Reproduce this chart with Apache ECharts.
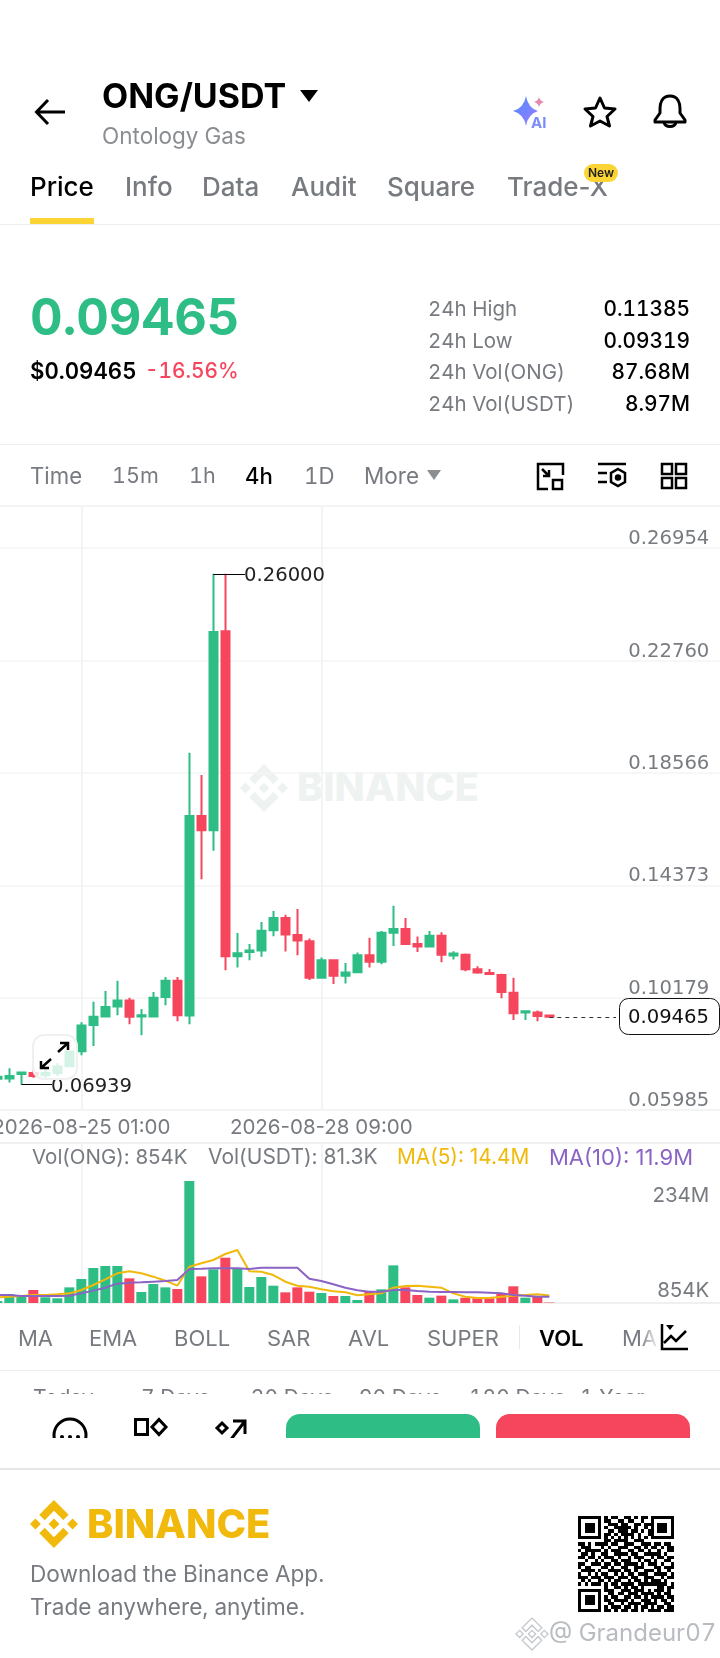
<!DOCTYPE html>
<html><head><meta charset="utf-8">
<script src="https://cdn.jsdelivr.net/npm/echarts@6/dist/echarts.min.js"></script>
<style>
html,body{margin:0;padding:0;background:#fff;width:720px;height:1658px;overflow:hidden;font-family:Inter,Lato,sans-serif}
#page{position:relative;width:720px;height:1658px;overflow:hidden;font-variant-numeric:tabular-nums}
#chart{position:absolute;left:0;top:0;width:720px;height:1658px;z-index:2;font-variant-numeric:normal}
.t{position:absolute;white-space:nowrap;transform:translateY(-50%);line-height:1;z-index:3}
.g{color:#777b80}.k{color:#000}
.r{position:absolute;z-index:3}
svg{position:absolute;z-index:3;overflow:visible}
</style></head><body><div id="page">
<svg width="0" height="0" style="position:absolute"><defs><path id="bn" d="M16.624 13.9202l2.7175 2.7154-7.353 7.353-7.353-7.352 2.7175-2.7164 4.6355 4.6595 4.6356-4.6595zm4.6366-4.6366L24 12l-2.7154 2.7164L18.5682 12l2.6924-2.7164zm-9.272.001l2.7163 2.6914-2.7164 2.7174v-.001L9.2721 12l2.7164-2.7154zm-9.2722-.001L5.4088 12l-2.6914 2.6924L0 12l2.7164-2.7164zM11.9885.0115l7.353 7.329-2.7174 2.7154-4.6356-4.6356-4.6355 4.6595-2.7174-2.7154 7.353-7.353z"/></defs></svg>

<svg style="left:34px;top:97px" width="32" height="30" viewBox="0 0 32 30" fill="none" stroke="#000" stroke-width="3"><path d="M31 15H3M14 3L2.500 15L14 27"/></svg>
<div class="t k" style="left:102px;top:96px;font-size:34px;font-weight:700">ONG/USDT</div>
<svg style="left:300px;top:90px" width="18" height="12"><path d="M0 0H18L9 12Z" fill="#000"/></svg>
<div class="t" style="left:102px;top:136px;font-size:22.500px;color:#8a8d91">Ontology Gas</div>
<svg style="left:513px;top:95px" width="36" height="34" viewBox="0 0 36 34"><defs><linearGradient id="ai" x1="0" y1="0" x2="1" y2="1"><stop offset="0" stop-color="#4f8cff"/><stop offset="1" stop-color="#9a7bff"/></linearGradient></defs><path d="M13 1Q15 13 25 16Q15 19 13 31Q11 19 0 16Q11 13 13 1Z" fill="url(#ai)"/><path d="M26 2Q27 6 31 7Q27 8 26 12Q25 8 21 7Q25 6 26 2Z" fill="#e88ab0"/><text x="18" y="33" font-size="15" font-weight="700" fill="#7b8cff" font-family="Inter">AI</text></svg>
<svg style="left:583px;top:96px" width="34" height="32" viewBox="0 0 34 32" fill="none" stroke="#000" stroke-width="3" stroke-linejoin="round"><path d="M17 2L21.500 12L32 13L24 20.500L26.500 30L17 25L7.500 30L10 20.500L2 13L12.500 12Z"/></svg>
<svg style="left:653px;top:94px" width="34" height="36" viewBox="0 0 34 36" fill="none" stroke="#000" stroke-width="3" stroke-linejoin="round"><path d="M17 2C9 2 7 9 7 15V19L2 26V28H32V26L27 19V15C27 9 25 2 17 2Z"/><path d="M11 28C12 34 22 34 23 28"/></svg>

<div class="t k" style="left:30px;top:187px;font-size:26px;font-weight:500">Price</div>
<div class="t g" style="left:125px;top:187px;font-size:26px;font-weight:500">Info</div>
<div class="t g" style="left:202px;top:187px;font-size:26px;font-weight:500">Data</div>
<div class="t g" style="left:291px;top:187px;font-size:26px;font-weight:500">Audit</div>
<div class="t g" style="left:387px;top:187px;font-size:26px;font-weight:500">Square</div>
<div class="t g" style="left:507px;top:187px;font-size:26px;font-weight:500;font-variant-numeric:normal">Trade-X</div>
<div class="r" style="left:584px;top:164px;width:34px;height:18px;border-radius:9px;background:#FCD535;text-align:center;font-size:12px;line-height:18px;font-weight:600;color:#222">New</div>
<div class="r" style="left:30px;top:218px;width:64px;height:6px;background:#FCD535"></div>
<div class="r" style="left:0;top:224px;width:720px;height:1px;background:#eeeeee"></div>

<div class="t" style="left:30px;top:317px;font-size:50.500px;font-weight:700;color:#2EBD85">0.09465</div>
<div class="t k" style="left:30px;top:371px;font-size:22.200px;font-weight:600">$0.09465</div>
<div class="t" style="left:145px;top:371px;font-size:20.800px;font-weight:500;color:#F6465D">-16.56%</div>
<div class="t g" style="left:428px;top:309px;font-size:20.500px">24h High</div>
<div class="t g" style="left:428px;top:341px;font-size:20.500px">24h Low</div>
<div class="t g" style="left:428px;top:372px;font-size:20.500px">24h Vol(ONG)</div>
<div class="t g" style="left:428px;top:404px;font-size:20.500px">24h Vol(USDT)</div>
<div class="t k" style="right:30px;top:309px;font-size:20.800px;font-weight:500">0.11385</div>
<div class="t k" style="right:30px;top:341px;font-size:20.800px;font-weight:500">0.09319</div>
<div class="t k" style="right:30px;top:372px;font-size:20.800px;font-weight:500">87.68M</div>
<div class="t k" style="right:30px;top:404px;font-size:20.800px;font-weight:500">8.97M</div>
<div class="r" style="left:0;top:444px;width:720px;height:1px;background:#eeeeee"></div>

<div class="t g" style="left:30px;top:476px;font-size:22.200px">Time</div>
<div class="t g" style="left:112px;top:476px;font-size:21.500px">15m</div>
<div class="t g" style="left:189px;top:476px;font-size:21.500px">1h</div>
<div class="t k" style="left:245px;top:476px;font-size:22.200px;font-weight:500">4h</div>
<div class="t g" style="left:304px;top:476px;font-size:22.200px">1D</div>
<div class="t g" style="left:364px;top:476px;font-size:22.500px">More</div>
<svg style="left:427px;top:470px" width="14" height="10"><path d="M0 0H14L7 10Z" fill="#8a8d91"/></svg>
<svg style="left:536px;top:462px" width="28" height="28" viewBox="0 0 28 28" fill="none" stroke="#000" stroke-width="2.500"><path d="M12 27H2V2H27V13"/><rect x="17" y="18" width="9" height="9"/><path d="M6 7L13 14M13 8V14H7"/></svg>
<svg style="left:597px;top:462px" width="30" height="28" viewBox="0 0 30 28" fill="none" stroke="#000" stroke-width="2.500"><path d="M1 2H29M1 11H10M1 20H10"/><path d="M21 7L28 11V20L21 24L14 20V11Z"/><circle cx="21" cy="15.500" r="2" fill="#000"/></svg>
<svg style="left:660px;top:462px" width="28" height="28" viewBox="0 0 28 28" fill="none" stroke="#000" stroke-width="2.500"><rect x="2" y="2" width="10" height="10"/><rect x="16" y="2" width="10" height="10"/><rect x="2" y="16" width="10" height="10"/><rect x="16" y="16" width="10" height="10"/></svg>

<svg style="left:240px;top:764px;z-index:1" width="48" height="48" viewBox="0 0 24 24" fill="#eef2f0"><use href="#bn"/></svg>
<div class="t" style="left:297px;top:788px;font-size:39.500px;font-weight:800;color:#eef2f0;z-index:1">BINANCE</div>

<div class="r" style="left:32px;top:1034px;width:42px;height:42px;border:2px solid #f0f0f0;border-radius:12px;background:rgba(255,255,255,.8)"></div>
<svg style="left:40px;top:1042px" width="29" height="27" viewBox="0 0 29 27" fill="none" stroke="#000" stroke-width="2.500"><path d="M28 1L18 10M20 1H28V8M1 26L11 17M9 26H1V19"/></svg>

<div class="t g" style="left:18px;top:1338px;font-size:22px">MA</div>
<div class="t g" style="left:89px;top:1338px;font-size:22px">EMA</div>
<div class="t g" style="left:174px;top:1338px;font-size:22px">BOLL</div>
<div class="t g" style="left:267px;top:1338px;font-size:22px">SAR</div>
<div class="t g" style="left:348px;top:1338px;font-size:22px">AVL</div>
<div class="t g" style="left:427px;top:1338px;font-size:22px">SUPER</div>
<div class="r" style="left:519px;top:1325px;width:1px;height:24px;background:#e8e8e8"></div>
<div class="t k" style="left:539px;top:1338px;font-size:22px;font-weight:600">VOL</div>
<div style="position:absolute;left:622px;top:1326px;width:34px;height:24px;overflow:hidden;z-index:3"><div style="font-size:22px;line-height:24px;color:#777b80;white-space:nowrap">MACD</div></div>
<div class="r" style="left:640px;top:1320px;width:20px;height:34px;background:linear-gradient(90deg,rgba(255,255,255,0),#fff)"></div>
<svg style="left:660px;top:1323px" width="28" height="28" viewBox="0 0 28 28" fill="none" stroke="#000" stroke-width="2.500"><path d="M2 1V26H28M4 20L11 13L16 18L26 8"/><path d="M6 2H14L10 7Z" fill="#000" stroke="none"/></svg>
<div class="r" style="left:0;top:1370px;width:720px;height:1px;background:#eeeeee"></div>

<div style="position:absolute;left:0;top:1386px;width:720px;height:8px;overflow:hidden;z-index:3">
<div class="t g" style="left:33px;top:11px;font-size:21px">Today</div>
<div class="t g" style="left:141px;top:11px;font-size:21px">7 Days</div>
<div class="t g" style="left:251px;top:11px;font-size:21px">30 Days</div>
<div class="t g" style="left:359px;top:11px;font-size:21px">90 Days</div>
<div class="t g" style="left:469px;top:11px;font-size:21px">180 Days</div>
<div class="t g" style="left:580px;top:11px;font-size:21px">1 Year</div>
</div>

<div style="position:absolute;left:0;top:1410px;width:720px;height:28px;overflow:hidden;z-index:3">
<svg style="left:52px;top:7px" width="36" height="36" viewBox="0 0 36 36" fill="none" stroke="#000" stroke-width="3"><circle cx="18" cy="18" r="16"/><circle cx="10" cy="20" r="2" fill="#000" stroke="none"/><circle cx="18" cy="20" r="2" fill="#000" stroke="none"/><circle cx="26" cy="20" r="2" fill="#000" stroke="none"/></svg>
<svg style="left:134px;top:8px" width="34" height="24" viewBox="0 0 34 24" fill="none" stroke="#000" stroke-width="3"><rect x="1.500" y="1.500" width="12" height="15"/><path d="M25 1.500L32 9L25 16.500L18 9Z"/><path d="M2 23H13M19 23H31"/></svg>
<svg style="left:215px;top:8px" width="32" height="24" viewBox="0 0 32 24" fill="none" stroke="#000" stroke-width="3"><path d="M7 5L12 10L7 15L2 10Z"/><path d="M14 24L30 3M18 3H30V16"/></svg>
<div class="r" style="left:286px;top:4px;width:194px;height:40px;border-radius:14px 14px 0 0;background:#2EBD85"></div>
<div class="r" style="left:496px;top:4px;width:194px;height:40px;border-radius:14px 14px 0 0;background:#F6465D"></div>
</div>
<div class="r" style="left:0;top:1468px;width:720px;height:2px;background:#e6e6e6"></div>

<svg style="left:30px;top:1500px" width="48" height="48" viewBox="0 0 24 24" fill="#F0B90B"><use href="#bn"/></svg>
<div class="t" style="left:87px;top:1524px;font-size:39.800px;font-weight:800;color:#F0B90B">BINANCE</div>
<div class="t" style="left:30px;top:1574px;font-size:22.600px;color:#777b80">Download the Binance App.</div>
<div class="t" style="left:30px;top:1607px;font-size:22.600px;color:#777b80">Trade anywhere, anytime.</div>
<svg id="qr" style="left:578px;top:1516px" width="96" height="96" viewBox="0 0 29 29" shape-rendering="crispEdges"></svg>
<svg style="left:516px;top:1618px" width="32" height="32" viewBox="0 0 24 24" fill="#fff" stroke="#c4c8cc" stroke-width="1"><use href="#bn"/></svg>
<div class="t" style="left:549px;top:1633px;font-size:24px;color:#b8bbbf">@ Grandeur07</div>

<div id="chart"></div>
</div>
<script>
// ---- chart data ----
const categories = ['2026-08-23 21:00','2026-08-24 01:00','2026-08-24 05:00','2026-08-24 09:00','2026-08-24 13:00','2026-08-24 17:00','2026-08-24 21:00','2026-08-25 01:00','2026-08-25 05:00','2026-08-25 09:00','2026-08-25 13:00','2026-08-25 17:00','2026-08-25 21:00','2026-08-26 01:00','2026-08-26 05:00','2026-08-26 09:00','2026-08-26 13:00','2026-08-26 17:00','2026-08-26 21:00','2026-08-27 01:00','2026-08-27 05:00','2026-08-27 09:00','2026-08-27 13:00','2026-08-27 17:00','2026-08-27 21:00','2026-08-28 01:00','2026-08-28 05:00','2026-08-28 09:00','2026-08-28 13:00','2026-08-28 17:00','2026-08-28 21:00','2026-08-29 01:00','2026-08-29 05:00','2026-08-29 09:00','2026-08-29 13:00','2026-08-29 17:00','2026-08-29 21:00','2026-08-30 01:00','2026-08-30 05:00','2026-08-30 09:00','2026-08-30 13:00','2026-08-30 17:00','2026-08-30 21:00','2026-08-31 01:00','2026-08-31 05:00','2026-08-31 09:00','2026-08-31 13:00','','','','','','','','','','','','','','',''];
const opens  = [.07148,.07163,.07326,.07370,.07281,.07370,.07620,.08181,.09154,.09479,.09847,.10069,.09479,.09479,.10201,.10806,.09508,.16955,.16424,.23857,.11720,.11882,.11941,.12693,.13151,.12517,.12281,.10924,.11573,.11000,.11130,.11764,.11514,.12605,.12738,.12177,.12089,.12487,.11750,.11779,.11234,.11101,.11027,.10363,.09626,.09626,.09510];
const closes = [.07222,.07252,.07385,.07252,.07370,.07606,.08166,.09140,.09464,.09833,.10069,.09464,.09523,.10172,.10806,.09523,.16955,.16424,.23827,.11720,.11838,.11941,.12679,.13151,.12531,.12310,.10924,.11573,.11000,.11116,.11764,.11514,.12605,.12738,.12177,.12089,.12487,.11779,.11824,.11234,.11116,.11057,.10393,.09597,.09670,.09493,.09465];
const lows   = [.07075,.07016,.06939,.07193,.07193,.07252,.07620,.08033,.08373,.09449,.09523,.09184,.08771,.09479,.09892,.09302,.09184,.14596,.15658,.11204,.11307,.11573,.11705,.12472,.11897,.11764,.10835,.10909,.10688,.10703,.11101,.11307,.11425,.12104,.12148,.11882,.12059,.11499,.11602,.11160,.11071,.11027,.10157,.09346,.09346,.09302,.09430];
const highs  = [.07296,.07547,.07400,.07517,.07517,.07739,.08166,.09258,.10024,.10422,.10806,.10172,.09759,.10393,.10953,.10953,.19315,.18489,.26000,.26000,.12590,.12177,.13003,.13416,.13269,.13490,.12384,.11676,.11573,.11470,.11868,.12413,.12664,.13608,.13151,.12458,.12664,.12620,.11912,.11824,.11352,.11248,.11071,.10924,.09670,.09700,.09552];
const volumes = [3.8,17.3,12.1,24.9,10.9,9.0,30.0,46.0,67.1,71.0,71.0,47.3,21.1,36.4,30.0,26.9,234,51.1,64.6,86.9,66.5,30.7,49.9,33.2,20.5,30.0,21.7,19.2,13.4,13.4,5.8,21.7,26.2,72.2,30.0,15.3,10.2,14.1,7.0,10.2,9.0,9.0,18.5,32.0,10.2,12.1,0.854];
const ma5  = [10.9,12.1,13.4,15.3,15.3,16.6,18.5,24.9,34.5,45.4,56.9,60.7,56.9,50.5,42.8,33.2,69.7,76.1,82.5,94.0,101.6,60.7,60.1,53.7,40.9,33.2,31.3,26.2,22.4,20.5,14.7,16.6,18.5,29.4,32.6,33.2,31.3,29.4,18.5,12.1,9.6,9.6,12.1,14.1,15.3,16.6,14.4];
const ma10 = [15.3,15.3,13.4,13.4,13.4,13.4,14.1,18.5,23.7,29.4,37.1,39.0,39.6,40.9,42.2,44.1,65.2,65.8,66.5,66.5,66.5,65.2,67.8,67.8,67.8,67.8,46.7,42.2,35.8,29.4,24.3,21.7,21.7,24.9,24.9,23.0,21.7,21.1,21.1,20.5,20.5,19.8,18.5,15.3,14.1,12.1,11.9];
const priceTicks = [0.05985,0.10179,0.14373,0.18566,0.22760,0.26954];
const volumeTicks = [0.854,234];
const volumeTickLabels = {0.854:'854K',234:'234M'};
const highMark = 0.26000, lowMark = 0.06939, lastPrice = 0.09465;
const legendTexts = ['Vol(ONG): 854K','Vol(USDT): 81.3K','MA(5): 14.4M','MA(10): 11.9M'];
const labelledTimes = ['2026-08-25 01:00','2026-08-28 09:00'];

// ---- decorative QR modules ----
const qrRows = ['11111110101100110101101111111','10000010110011011001001000001','10111010011101100110111011101','10111010100111110100101011101','10111010011011101101011011101','10000010110101111010011000001','11111110101010101010101111111','00000000110111100111000000000','11010111101100111001110110110','01110001010011100110101101011','10111110101110011011010010011','01101001100111101100111110100','11011010111010010111001011011','00100101001101110010110100110','11001110110110111101011101001','10110001101001100111000110111','01111010011110110100111010010','10010101100101011011100111101','11101110111011101100111001011','01010011010110010110101110100','10101110101101111011111111101','00000000100110101101000011011','11111110111001110111010111010','10000010011011011101111010110','10111010101100110110101111011','10111010110111101001110101101','10111010011001011110111100110','10000010101110110101101011011','11111110110101101101011110111'];
let qs='';qrRows.forEach((r,y)=>{for(let x=0;x<29;x++)if(r[x]==='1')qs+=`<rect x="${x}" y="${y}" width="1" height="1"/>`;});
document.getElementById('qr').innerHTML=qs;

const UP='#2EBD85',DOWN='#F6465D',GRID='#f3f4f4',GREY='#777b80';
const FONT='Inter',NUM='DejaVu Sans';
const chart=echarts.init(document.getElementById('chart'),null,{renderer:'canvas'});
const isLabelled=(i)=>labelledTimes.indexOf(categories[i])>=0;
const xBase={type:'category',boundaryGap:false,data:categories,axisLine:{show:false},axisTick:{show:false},
  splitLine:{show:true,interval:(i)=>isLabelled(i),lineStyle:{color:GRID,width:2}}};
chart.setOption({
  animation:false,
  grid:[
    {left:-2.67,width:732,top:506,height:604,outerBoundsMode:'none',containLabel:false,show:true,borderWidth:1.5,borderColor:'#f0f1f1',backgroundColor:'transparent'},
    {left:-2.67,width:732,top:1143,height:160,outerBoundsMode:'none',containLabel:false,show:true,borderWidth:1.5,borderColor:'#ececec',backgroundColor:'transparent'}
  ],
  xAxis:[
    Object.assign({},xBase,{gridIndex:0,axisLabel:{show:true,interval:(i)=>isLabelled(i),color:GREY,fontFamily:FONT,fontSize:20.5,margin:7}}),
    Object.assign({},xBase,{gridIndex:1,axisLabel:{show:false}})
  ],
  yAxis:[
    {type:'value',gridIndex:0,position:'right',min:0.05985,max:0.28529,scale:true,
      axisLine:{show:false},axisTick:{show:false,customValues:priceTicks},
      splitLine:{show:true,lineStyle:{color:GRID,width:1.5}},
      axisLabel:{inside:true,customValues:priceTicks,formatter:(v)=>v.toFixed(5),color:GREY,fontFamily:NUM,fontSize:19.6,margin:20,verticalAlign:'bottom',lineHeight:18,align:'right'}},
    {type:'value',gridIndex:1,position:'right',min:0,max:306.9,
      axisLine:{show:false},axisTick:{show:false,customValues:volumeTicks},splitLine:{show:false},
      axisLabel:{inside:true,customValues:volumeTicks,align:'right',margin:20,color:GREY,fontFamily:FONT,fontSize:20.5,
        formatter:(v)=>{const k=volumeTicks.reduce((a,b)=>Math.abs(b-v)<Math.abs(a-v)?b:a);return (k>100?'{t|':'{b|')+volumeTickLabels[k]+'}';},
        rich:{t:{color:GREY,fontFamily:FONT,fontSize:20.5,padding:[30,0,0,0]},b:{color:GREY,fontFamily:FONT,fontSize:20.5,padding:[0,0,24,0]}}}}
  ],
  series:[
    {type:'candlestick',xAxisIndex:0,yAxisIndex:0,barWidth:8,
      data:opens.map((o,i)=>[o,closes[i],lows[i],highs[i]]),
      itemStyle:{color:UP,color0:DOWN,borderColor:UP,borderColor0:DOWN,borderWidth:2}},
    {type:'bar',xAxisIndex:1,yAxisIndex:1,barWidth:10,
      data:volumes.map((v,i)=>({value:v,itemStyle:{color:closes[i]>=opens[i]?UP:DOWN}}))},
    {type:'line',xAxisIndex:1,yAxisIndex:1,data:ma5,symbol:'none',lineStyle:{color:'#F0B90B',width:2}},
    {type:'line',xAxisIndex:1,yAxisIndex:1,data:ma10,symbol:'none',lineStyle:{color:'#8B63C4',width:2}}
  ]
});
const P=(i,v)=>chart.convertToPixel({xAxisIndex:0,yAxisIndex:0},[i,v]);
const hi=P(18,highMark),lo=P(2,lowMark),la=P(46,lastPrice);
const txt=(x,y,s,c,a,f)=>({type:'text',z:100,style:{x,y,text:s,fill:c,font:f||('19.6px '+NUM),textAlign:a||'left',textVerticalAlign:'middle'}});
const seg=(x1,y,x2,dash)=>({type:'line',z:100,shape:{x1,y1:y,x2,y2:y},style:{stroke:dash?'#333':'#000',lineWidth:1,lineDash:dash?[4,4]:null}});
chart.setOption({graphic:[
  seg(hi[0],Math.round(hi[1])+.5,245),txt(244,hi[1]+2.5,highMark.toFixed(5),'#222'),
  seg(lo[0],Math.round(lo[1])+.5,52),txt(51,lo[1]+2.5,lowMark.toFixed(5),'#222'),
  seg(la[0],Math.round(la[1])+.5,616,true),
  {type:'rect',z:100,shape:{x:619.5,y:Math.round(la[1])-18.5,width:100,height:36,r:9},style:{fill:'#fff',stroke:'#111',lineWidth:1}},
  txt(709,la[1]+1,lastPrice.toFixed(5),'#111','right'),
  txt(32,1158,legendTexts[0],GREY,'left','20.5px '+FONT),txt(208,1158,legendTexts[1],GREY,'left','21px '+FONT),
  txt(397,1158,legendTexts[2],'#F0B90B','left','20.8px '+FONT),txt(549,1158,legendTexts[3],'#8B63C4','left','22px '+FONT)
]});
</script></body></html>
